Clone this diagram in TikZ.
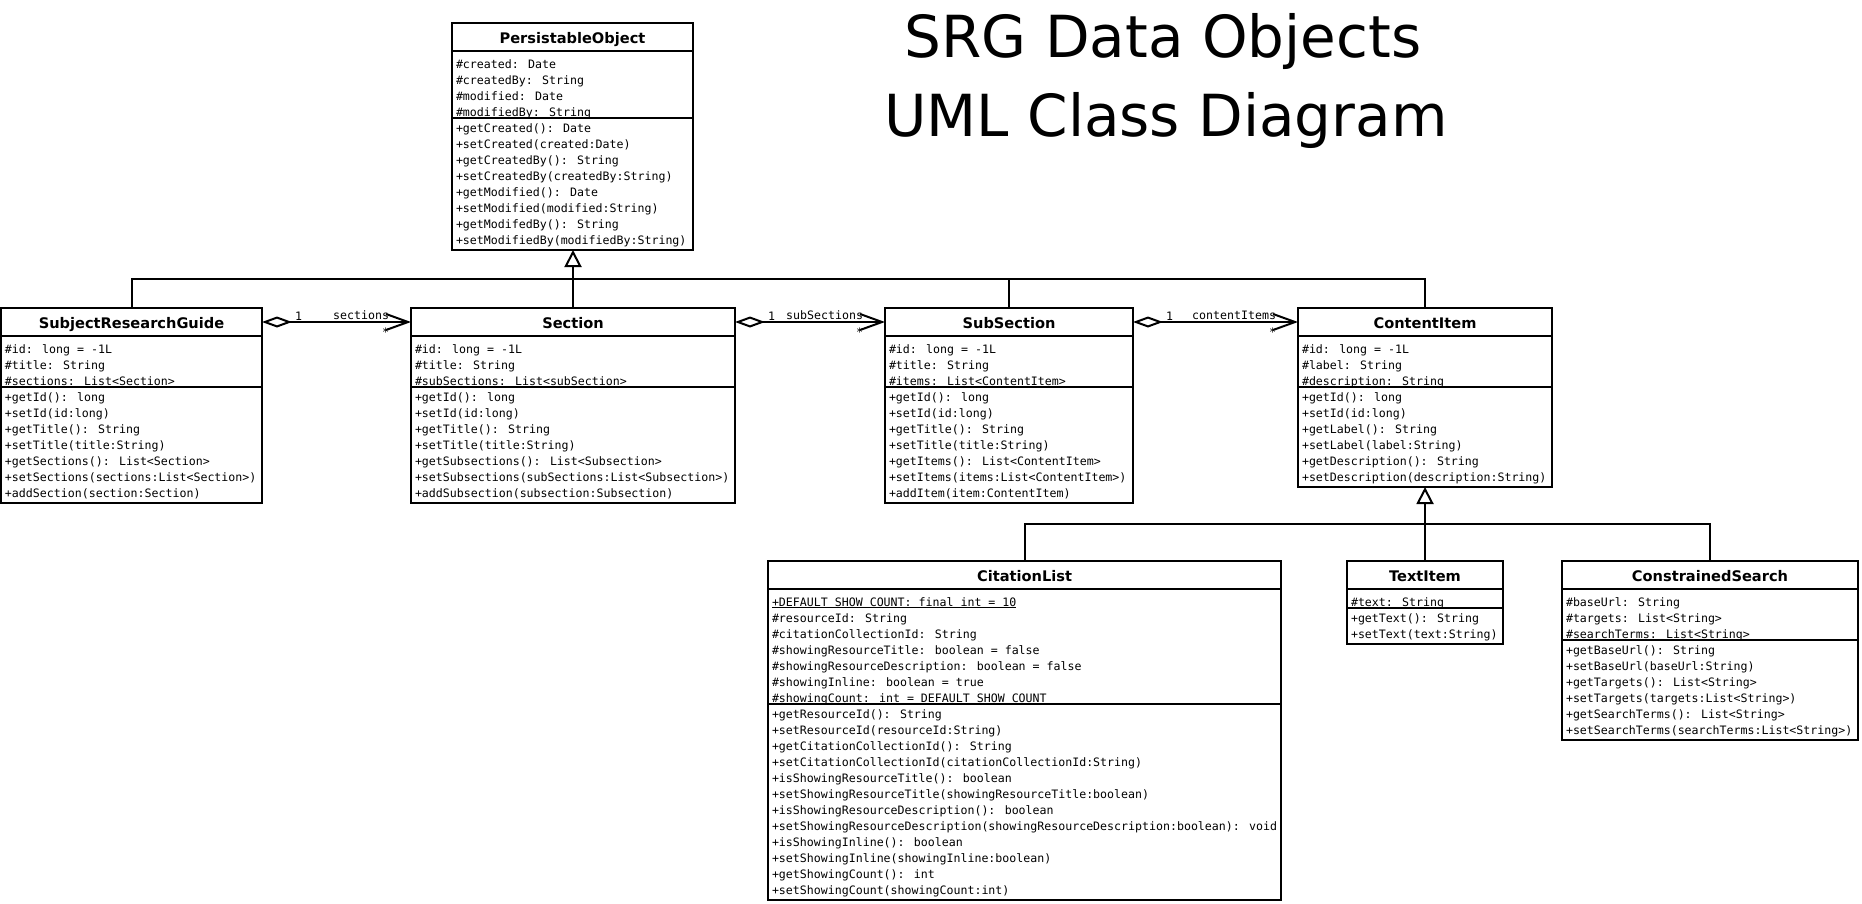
\documentclass[tikz,border=0pt]{standalone}
\usepackage{fontspec}
\usetikzlibrary{arrows.meta}
\newfontfamily\umlmono{DejaVu Sans Mono}
\newfontfamily\umlsans{DejaVu Sans}

\tikzset{
  ctitle/.style={draw, rectangle, anchor=north west, minimum height=28pt, inner sep=0pt, outer sep=0pt, text height=12pt, text depth=0pt, font=\umlsans\bfseries\fontsize{14.6}{16}\selectfont},
  cpart/.style={draw, rectangle, anchor=north west, inner sep=0pt, outer sep=0pt},
  member/.style={anchor=base west, inner sep=0pt, font=\umlmono\fontsize{11.6}{16}\selectfont},
  lbl/.style={inner sep=0pt, font=\umlmono\fontsize{11.6}{16}\selectfont},
  agg/.style={{Diamond[open,length=30pt,width=11pt]}-{Straight Barb[length=22pt,width=16pt]}},
  inh/.style={-{Triangle[open,length=17pt,width=17pt]}},
  bigtitle/.style={anchor=base, inner sep=0pt, font=\umlsans\fontsize{58}{70}\selectfont},
}

% #1 name, #2 x, #3 y, #4 width, #5 title, #6 no. attrs, #7 attrs, #8 no. methods, #9 methods
\newcommand{\umlclass}[9]{%
  \node[ctitle, minimum width=#4] (#1) at (#2,#3) {#5};
  \node[cpart, minimum width=#4, minimum height={16*#6+3}] (#1-at) at (#2,{#3+28}) {};
  \foreach \t [count=\i] in {#7} {
    \node[member] (#1-a\i) at ({#2+3},{#3+28+16*\i+1}) {\t};
  }
  \node[cpart, fill=white, minimum width=#4, minimum height={16*#8+4}] (#1-me) at (#2,{#3+28+16*#6+3}) {};
  \foreach \t [count=\i] in {#9} {
    \node[member] (#1-m\i) at ({#2+3},{#3+28+16*#6+3+16*\i-2}) {\t};
  }
}

\begin{document}
\begin{tikzpicture}[x=1pt,y=-1pt,line width=2pt]
\useasboundingbox (0,0) rectangle (1862,903);

\node[bigtitle] (title1) at (1163,57) {SRG Data Objects};
\node[bigtitle] (title2) at (1166,136) {UML Class Diagram};

\umlclass{po}{452}{23}{241}{PersistableObject}{4}{%
\#created: Date,\#createdBy: String,\#modified: Date,\#modifiedBy: String}{8}{%
+getCreated(): Date,+setCreated(created:Date),+getCreatedBy(): String,+setCreatedBy(createdBy:String),+getModified(): Date,+setModified(modified:String),+getModifedBy(): String,+setModifiedBy(modifiedBy:String)}

\umlclass{srg}{1}{308}{261}{SubjectResearchGuide}{3}{%
\#id: long = -1L,\#title: String,\#sections: List<Section>}{7}{%
+getId(): long,+setId(id:long),+getTitle(): String,+setTitle(title:String),+getSections(): List<Section>,+setSections(sections:List<Section>),+addSection(section:Section)}

\umlclass{sec}{411}{308}{324}{Section}{3}{%
\#id: long = -1L,\#title: String,\#subSections: List<subSection>}{7}{%
+getId(): long,+setId(id:long),+getTitle(): String,+setTitle(title:String),+getSubsections(): List<Subsection>,+setSubsections(subSections:List<Subsection>),+addSubsection(subsection:Subsection)}

\umlclass{sub}{885}{308}{248}{SubSection}{3}{%
\#id: long = -1L,\#title: String,\#items: List<ContentItem>}{7}{%
+getId(): long,+setId(id:long),+getTitle(): String,+setTitle(title:String),+getItems(): List<ContentItem>,+setItems(items:List<ContentItem>),+addItem(item:ContentItem)}

\umlclass{ci}{1298}{308}{254}{ContentItem}{3}{%
\#id: long = -1L,\#label: String,\#description: String}{6}{%
+getId(): long,+setId(id:long),+getLabel(): String,+setLabel(label:String),+getDescription(): String,+setDescription(description:String)}

\umlclass{cl}{768}{561}{513}{CitationList}{7}{%
\underline{+DEFAULT SHOW COUNT: final int = 10},\#resourceId: String,\#citationCollectionId: String,\#showingResourceTitle: boolean = false,\#showingResourceDescription: boolean = false,\#showingInline: boolean = true,\#showingCount: int = DEFAULT SHOW COUNT}{12}{%
+getResourceId(): String,+setResourceId(resourceId:String),+getCitationCollectionId(): String,+setCitationCollectionId(citationCollectionId:String),+isShowingResourceTitle(): boolean,+setShowingResourceTitle(showingResourceTitle:boolean),+isShowingResourceDescription(): boolean,+setShowingResourceDescription(showingResourceDescription:boolean): void,+isShowingInline(): boolean,+setShowingInline(showingInline:boolean),+getShowingCount(): int,+setShowingCount(showingCount:int)}

\umlclass{ti}{1347}{561}{156}{TextItem}{1}{%
\#text: String}{2}{%
+getText(): String,+setText(text:String)}

\umlclass{cs}{1562}{561}{296}{ConstrainedSearch}{3}{%
\#baseUrl: String,\#targets: List<String>,\#searchTerms: List<String>}{6}{%
+getBaseUrl(): String,+setBaseUrl(baseUrl:String),+getTargets(): List<String>,+setTargets(targets:List<String>),+getSearchTerms(): List<String>,+setSearchTerms(searchTerms:List<String>)}

% generalisation to PersistableObject
\coordinate (bus1) at (573,279);
\draw[inh] (sec.north) -- (sec.north |- po-me.south);
\draw (srg.north) |- (bus1) -| (ci.north);
\draw (sub.north) -- (sub.north |- bus1);

% generalisation to ContentItem
\coordinate (bus2) at (1425,524);
\draw[inh] (ti.north) -- (ti.north |- ci-me.south);
\draw (cl.north) |- (bus2) -| (cs.north);

% aggregations
\draw[agg] (srg.east) -- (sec.west)
  node[lbl, pos=0, anchor=base west, xshift=32pt, yshift=2pt] (m1a) {1}
  node[lbl, pos=1, anchor=base east, xshift=-21pt, yshift=3pt] (m1b) {sections}
  node[lbl, pos=1, anchor=base east, xshift=-21pt, yshift=-14pt] (m1c) {*};
\draw[agg] (sec.east) -- (sub.west)
  node[lbl, pos=0, anchor=base west, xshift=32pt, yshift=2pt] (m2a) {1}
  node[lbl, pos=1, anchor=base east, xshift=-21pt, yshift=3pt] (m2b) {subSections}
  node[lbl, pos=1, anchor=base east, xshift=-21pt, yshift=-14pt] (m2c) {*};
\draw[agg] (sub.east) -- (ci.west)
  node[lbl, pos=0, anchor=base west, xshift=32pt, yshift=2pt] (m3a) {1}
  node[lbl, pos=1, anchor=base east, xshift=-21pt, yshift=3pt] (m3b) {contentItems}
  node[lbl, pos=1, anchor=base east, xshift=-21pt, yshift=-14pt] (m3c) {*};
\end{tikzpicture}
\end{document}
